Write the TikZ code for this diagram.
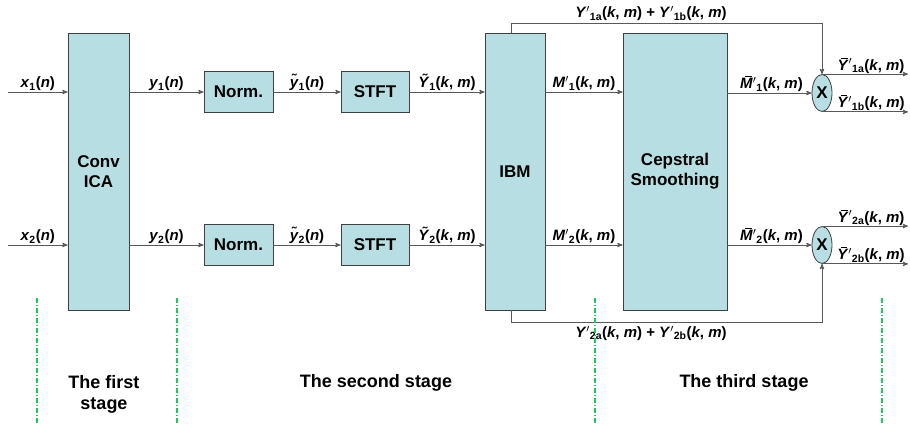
\documentclass[tikz,border=0pt]{standalone}
\usepackage{fontspec}
\setmainfont{Liberation Sans}
\usetikzlibrary{arrows, positioning, shapes.geometric}

\definecolor{boxfill}{RGB}{183,222,226}
\definecolor{stagegreen}{RGB}{30,200,90}

% signal names
\newcommand{\km}{(\textit{k}, \textit{m})}
\newcommand{\pr}{\ensuremath{^{\prime}}}
\newcommand{\ov}[1]{\setbox0\hbox{\textit{#1}}\rlap{\kern0.35\wd0\raisebox{1.12\ht0}{\rule{0.55\wd0}{0.9pt}}}\box0}
\newcommand{\Yf}[1]{\textit{Y}\pr\textsubscript{#1}}
\newcommand{\Mf}[1]{\textit{M}\pr\textsubscript{#1}}

\begin{document}
\begin{tikzpicture}[x=1pt, y=-1pt]
				\tikzset {>=stealth', block/.style={draw=black!75, fill=boxfill, line width=0.8pt, inner sep=0pt, align=center, font=\bfseries\fontsize{17}{20}\selectfont},
					sig/.style={->, draw=black!65, line width=0.9pt},
					lbl/.style={font=\bfseries\fontsize{15}{17}\selectfont, inner sep=0.5pt},
					stage/.style={align=center, font=\bfseries\fontsize{18}{21}\selectfont},
					sep/.style={draw=stagegreen, dash pattern=on 5pt off 2pt on 1pt off 2pt, line width=1.3pt} }
					\useasboundingbox (0,0) rectangle (910,426);

					% blocks
					\node[block, minimum width=61pt, minimum height=277pt] (ica) at (98.5,171.5) {Conv\\ICA};
					\node[block, minimum width=69pt, minimum height=41pt] (norm1) at (238.5,92) {Norm.};
					\node[block, minimum width=69pt, minimum height=41pt] (norm2) at (238.5,245) {Norm.};
					\node[block, minimum width=68pt, minimum height=41pt] (stft1) at (375,92) {STFT};
					\node[block, minimum width=68pt, minimum height=41pt] (stft2) at (375,245) {STFT};
					\node[block, minimum width=60pt, minimum height=277pt] (ibm) at (515,171.5) {IBM};
					\node[block, minimum width=104pt, minimum height=277pt] (ceps) at (675,171.5) {Cepstral\\Smoothing};
					\node[block, ellipse, minimum width=20pt, minimum height=37pt] (mul1) at (822,93) {X};
					\node[block, ellipse, minimum width=20pt, minimum height=37pt] (mul2) at (822,245) {X};

					\coordinate (in1) at (8,92);
					\coordinate (in2) at (8,245);
					\coordinate (out) at (908,0);
					\coordinate (fbtop) at (0,23);
					\coordinate (fbbot) at (0,322);

					% first channel
					\draw[sig] (in1) -- node[lbl, above] {\textit{x}\textsubscript{1}(\textit{n})} (in1 -| ica.west);
					\draw[sig] (ica.east |- norm1) -- node[lbl, above] {\textit{y}\textsubscript{1}(\textit{n})} (norm1);
					\draw[sig] (norm1) -- node[lbl, above] {\~{\textit{y}}\textsubscript{1}(\textit{n})} (stft1);
					\draw[sig] (stft1) -- node[lbl, above] {\~{\textit{Y}}\textsubscript{1}\km} (stft1 -| ibm.west);
					\draw[sig] (ibm.east |- stft1) -- node[lbl, above] {\Mf{1}\km} (ceps.west |- stft1);
					\draw[sig] (ceps.east |- mul1) -- node[lbl, above, xshift=2pt] {\ov{M}\pr\textsubscript{1}\km} (mul1);
					\draw[sig] (mul1.north) -- node[lbl, above, xshift=6pt] {\ov{Y}\pr\textsubscript{1a}\km} (mul1.north -| out);
					\draw[sig] (mul1.south) -- node[lbl, above, xshift=6pt] {\ov{Y}\pr\textsubscript{1b}\km} (mul1.south -| out);

					% second channel
					\draw[sig] (in2) -- node[lbl, above] {\textit{x}\textsubscript{2}(\textit{n})} (in2 -| ica.west);
					\draw[sig] (ica.east |- norm2) -- node[lbl, above] {\textit{y}\textsubscript{2}(\textit{n})} (norm2);
					\draw[sig] (norm2) -- node[lbl, above] {\~{\textit{y}}\textsubscript{2}(\textit{n})} (stft2);
					\draw[sig] (stft2) -- node[lbl, above] {\~{\textit{Y}}\textsubscript{2}\km} (stft2 -| ibm.west);
					\draw[sig] (ibm.east |- stft2) -- node[lbl, above] {\Mf{2}\km} (ceps.west |- stft2);
					\draw[sig] (ceps.east |- mul2) -- node[lbl, above, xshift=2pt] {\ov{M}\pr\textsubscript{2}\km} (mul2);
					\draw[sig] (mul2.north) -- node[lbl, above, xshift=6pt] {\ov{Y}\pr\textsubscript{2a}\km} (mul2.north -| out);
					\draw[sig] (mul2.south) -- node[lbl, above, xshift=6pt] {\ov{Y}\pr\textsubscript{2b}\km} (mul2.south -| out);

					% mask outputs round the smoothing block
					\draw[sig] ([xshift=-4pt]ibm.north) -- ([xshift=-4pt]ibm.north |- fbtop) -- node[lbl, above=1pt, pos=0.45] {\Yf{1a}\km{} + \Yf{1b}\km} (mul1 |- fbtop) -- (mul1.north);
					\draw[sig] ([xshift=-4pt]ibm.south) -- ([xshift=-4pt]ibm.south |- fbbot) -- node[lbl, below=3pt, pos=0.45] {\Yf{2a}\km{} + \Yf{2b}\km} (mul2 |- fbbot) -- (mul2.south);

					% stages
					\foreach \x in {37,177,595,882}
						\draw[sep] (\x,298) -- (\x,424);
					\node[stage] (st1) at (104,394) {The first\\stage};
					\node[stage] (st2) at (376,383) {The second stage};
					\node[stage] (st3) at (744,383) {The third stage};
			\end{tikzpicture}
\end{document}
